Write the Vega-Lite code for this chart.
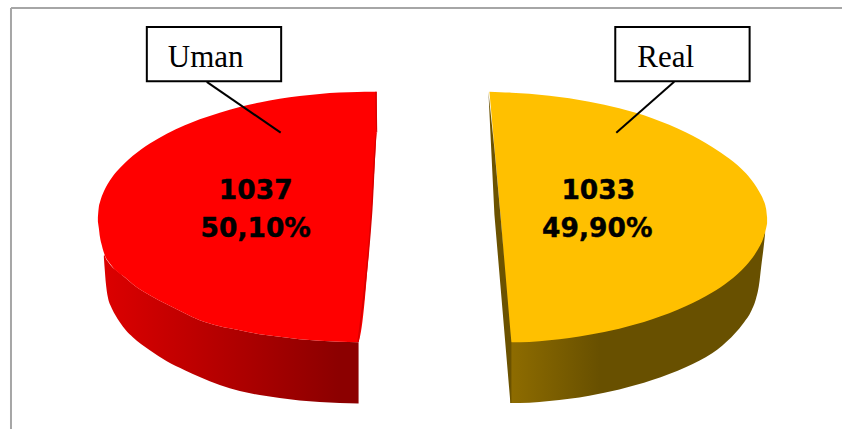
{
"$schema":"https://vega.github.io/schema/vega-lite/v6.json",
"width":843,"height":430,"autosize":{"type":"fit","contains":"padding"},"padding":0,
"background":"#ffffff","view":{"stroke":null},
"datasets":{
"umanSide":[{"x":104,"y":256,"y2":258},{"x":105,"y":256,"y2":272},{"x":106,"y":259,"y2":284},{"x":108,"y":262,"y2":298},{"x":111,"y":266,"y2":307},{"x":115,"y":270,"y2":315},{"x":120,"y":274,"y2":323},{"x":126,"y":279,"y2":331},{"x":133,"y":285,"y2":338},{"x":150,"y":296,"y2":351},{"x":167,"y":305,"y2":362},{"x":185,"y":314,"y2":371},{"x":200,"y":321,"y2":378},{"x":220,"y":327,"y2":386},{"x":240,"y":331,"y2":392},{"x":260,"y":335,"y2":396},{"x":280,"y":337.5,"y2":399},{"x":300,"y":340,"y2":401.5},{"x":320,"y":341.5,"y2":403},{"x":340,"y":342.5,"y2":404},{"x":359,"y":343,"y2":404.5}],
"umanTop":[{"x":98,"y":218,"y2":222},{"x":99,"y":207,"y2":229},{"x":100,"y":203,"y2":237},{"x":102,"y":196.5,"y2":246},{"x":105,"y":189.6,"y2":256},{"x":110,"y":181,"y2":264},{"x":117,"y":171.7,"y2":272},{"x":125,"y":163.3,"y2":278},{"x":133,"y":156.2,"y2":285},{"x":150,"y":143.9,"y2":296},{"x":167,"y":134,"y2":305},{"x":185,"y":125.6,"y2":314},{"x":200,"y":119.6,"y2":321},{"x":220,"y":113,"y2":327},{"x":240,"y":107.3,"y2":331},{"x":260,"y":102.8,"y2":335},{"x":280,"y":99.1,"y2":337.5},{"x":300,"y":96.2,"y2":340},{"x":320,"y":94.1,"y2":341.5},{"x":340,"y":92.8,"y2":342.5},{"x":358,"y":92.1,"y2":343},{"x":372,"y":92,"y2":213},{"x":377,"y":92,"y2":133}],
"umanEdge":[{"i":1,"x":376.5,"y":92},{"i":2,"x":377,"y":133},{"i":3,"x":372,"y":213},{"i":4,"x":358.5,"y":343}],
"realSide":[{"x":511,"y":342,"y2":404},{"x":530,"y":340,"y2":403.7},{"x":550,"y":339,"y2":402},{"x":570,"y":337,"y2":399.7},{"x":590,"y":334,"y2":396.6},{"x":620,"y":327,"y2":390.4},{"x":653,"y":318,"y2":381},{"x":687,"y":305,"y2":367.8},{"x":700,"y":298,"y2":361.6},{"x":713,"y":291,"y2":354},{"x":723,"y":284,"y2":346.5},{"x":735,"y":275,"y2":335},{"x":745,"y":266,"y2":323},{"x":752,"y":258,"y2":312},{"x":757,"y":251,"y2":299},{"x":760,"y":246,"y2":285},{"x":762,"y":242,"y2":268},{"x":764.5,"y":236,"y2":248},{"x":766,"y":232,"y2":234}],
"realTop":[{"x":490,"y":92,"y2":92},{"x":501,"y":92.5,"y2":215},{"x":512,"y":92.9,"y2":343},{"x":530,"y":94,"y2":342.7},{"x":550,"y":96,"y2":341},{"x":570,"y":98.5,"y2":338.7},{"x":590,"y":102,"y2":335.6},{"x":620,"y":108.6,"y2":329.4},{"x":653,"y":118.5,"y2":320},{"x":687,"y":132.7,"y2":306.8},{"x":713,"y":147.3,"y2":293.2},{"x":730,"y":158.9,"y2":281.6},{"x":747,"y":174,"y2":266},{"x":755,"y":184,"y2":256},{"x":760,"y":192,"y2":247.9},{"x":764,"y":199.7,"y2":239.3},{"x":767,"y":209.3,"y2":228.7},{"x":768,"y":218,"y2":224}],
"realCut":[{"x":489,"y":92,"y2":92},{"x":495,"y":149,"y2":215},{"x":501,"y":215,"y2":286},{"x":511,"y":332,"y2":404},{"x":512,"y":343,"y2":404}],
"boxes":[{"name":"Uman","x":147,"x2":281.5,"y":27,"y2":81.5},{"name":"Real","x":616,"x2":750.5,"y":27,"y2":81.5}],
"leaders":[{"name":"Uman","x":207,"y":82,"x2":281,"y2":133},{"name":"Real","x":675,"y":82,"x2":617,"y2":133}],
"names":[{"name":"Uman","x":168,"y":67},{"name":"Real","x":638,"y":67}],
"values":[{"label":"1037","x":256,"y":199},{"label":"50,10%","x":256,"y":238},{"label":"1033","x":599,"y":199},{"label":"49,90%","x":598,"y":238}],
"frame":[{"x":11,"y":8,"x2":843,"y2":8},{"x":11,"y":8,"x2":11,"y2":430}]
},
"encoding":{
"x":{"field":"x","type":"quantitative","scale":{"domain":[0,843],"nice":false,"zero":false},"axis":null},
"y":{"field":"y","type":"quantitative","scale":{"domain":[430,0],"nice":false,"zero":false},"axis":null}
},
"layer":[
{"data":{"name":"frame"},"mark":{"type":"rule","stroke":"#a6a6a6","strokeWidth":2},"encoding":{"x2":{"field":"x2"},"y2":{"field":"y2"}}},
{"data":{"name":"umanSide"},"mark":{"type":"area","interpolate":"monotone","color":{"gradient":"linear","x1":0,"x2":1,"y1":0,"y2":0,"stops":[{"offset":0,"color":"#dc0000"},{"offset":0.92,"color":"#8c0000"},{"offset":1,"color":"#8c0000"}]}},"encoding":{"y2":{"field":"y2"}}},
{"data":{"name":"umanTop"},"mark":{"type":"area","interpolate":"monotone","color":"#ff0000"},"encoding":{"y2":{"field":"y2"}}},
{"data":{"name":"umanEdge"},"mark":{"type":"line","color":"#d80000","strokeWidth":1.5,"interpolate":"monotone"},"encoding":{"order":{"field":"i"}}},
{"data":{"name":"realSide"},"mark":{"type":"area","interpolate":"monotone","color":{"gradient":"linear","x1":0,"x2":1,"y1":0,"y2":0,"stops":[{"offset":0,"color":"#8e6c00"},{"offset":0.35,"color":"#685000"},{"offset":1,"color":"#685000"}]}},"encoding":{"y2":{"field":"y2"}}},
{"data":{"name":"realTop"},"mark":{"type":"area","interpolate":"monotone","color":"#ffc000"},"encoding":{"y2":{"field":"y2"}}},
{"data":{"name":"realCut"},"mark":{"type":"area","interpolate":"linear","color":"#6b5200"},"encoding":{"y2":{"field":"y2"}}},
{"data":{"name":"boxes"},"mark":{"type":"rect","fill":"#ffffff","stroke":"#000000","strokeWidth":2},"encoding":{"x2":{"field":"x2"},"y2":{"field":"y2"}}},
{"data":{"name":"leaders"},"mark":{"type":"rule","stroke":"#000000","strokeWidth":2},"encoding":{"x2":{"field":"x2"},"y2":{"field":"y2"}}},
{"data":{"name":"names"},"mark":{"type":"text","font":"Liberation Serif","fontSize":31,"align":"left","baseline":"alphabetic","color":"#000000"},"encoding":{"text":{"field":"name"}}},
{"data":{"name":"values"},"mark":{"type":"text","font":"DejaVu Sans","fontWeight":"bold","fontSize":26.5,"align":"center","baseline":"alphabetic","color":"#000000","stroke":"#000000","strokeWidth":0.4},"encoding":{"text":{"field":"label"}}}
]
}
